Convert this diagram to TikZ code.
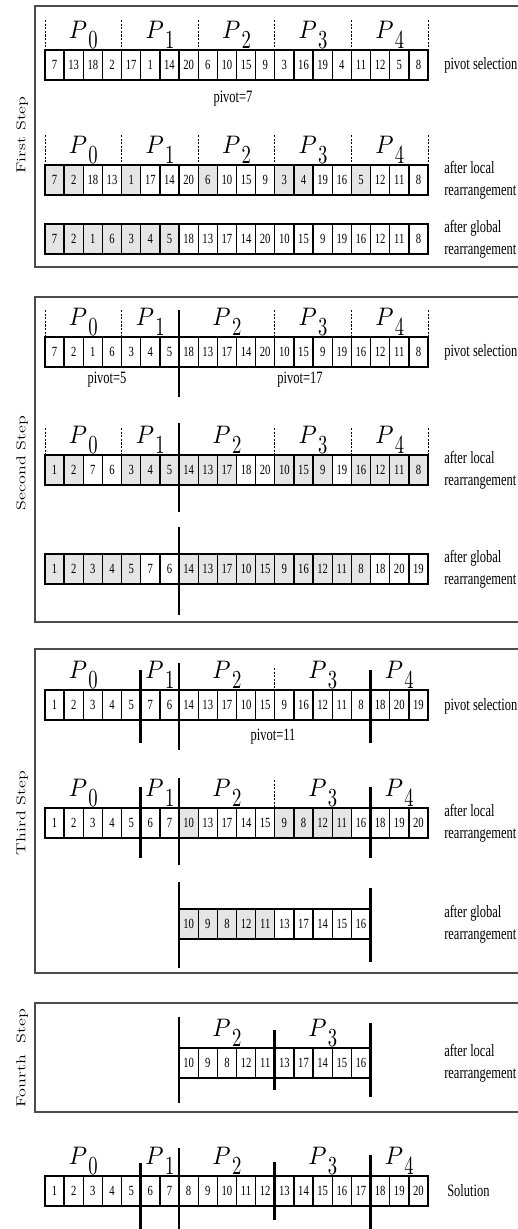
\documentclass[tikz,border=0pt]{standalone}
\usepackage{fontspec}
\usepackage{graphicx}
\newfontfamily\timesfont{Liberation Serif}
% narrow all running text the same way
\newcommand\squeeze[1]{\scalebox{0.72}[1]{#1}}
% processor label P_k
\newcommand\plab[1]{\scalebox{1.75}[1.9]{$P$}\kern1pt\raisebox{-7.5pt}{\scalebox{1.4}[1.95]{#1}}}
\colorlet{cellfill0}{white}
\colorlet{cellfill1}{black!10}
\colorlet{framecol}{black!70}

\tikzset{
  cellbox/.style={draw, line width=1pt, minimum width=14.36pt, minimum height=22.5pt,
    inner sep=0pt, outer sep=0pt, font=\timesfont\fontsize{10.5}{12}\selectfont},
  partdash/.style={line width=0.6pt, dash pattern=on 1.6pt off 1.1pt},
  splitter/.style={line width=2pt},
  framebox/.style={draw=framecol, line width=1.1pt},
  plabel/.style={anchor=base, inner sep=0pt},
  steplab/.style={rotate=90, inner sep=0pt, font=\fontsize{13.5}{15}\selectfont},
  sidelab/.style={anchor=west, align=left, inner sep=0pt, font=\timesfont\fontsize{13}{16.5}\selectfont},
  pivlab/.style={inner sep=0pt, font=\timesfont\fontsize{13}{15}\selectfont}
}

% one row of cells: name prefix, top edge, first index, value/shade list
\newcommand\cellrow[4]{%
  \foreach \v/\f [count=\i from #3] in {#4}{
    \node[cellbox, fill=cellfill\f] (#1-\i) at ({45+19.15*(\i+0.5)},{#2+15}) {\scalebox{0.76}[1]{\v}};
  }}
% dashed partition marks: top, bottom, list of cell boundaries
\newcommand\dashmarks[3]{%
  \foreach \k in {#3}{\draw[partdash] ({45+19.15*\k},#1) -- ({45+19.15*\k},#2);}}
% heavy partition line: boundary, top, bottom
\newcommand\splitline[3]{\draw[splitter] ({45+19.15*#1},#2) -- ({45+19.15*#1},#3);}
% processor labels: name prefix, baseline, list of k/x
\newcommand\plabels[3]{%
  \foreach \k/\x in {#3}{\node[plabel] (#1-p\k) at (\x,#2) {\plab{\k}};}}

\begin{document}
\begin{tikzpicture}[x=0.75pt,y=-0.75pt]
\clip (0,0) rectangle (518,1229);

% ---------- frames and step titles ----------
\draw[framebox] (35,6) rectangle (545,267);
\draw[framebox] (35,297) rectangle (545,622);
\draw[framebox] (35,649) rectangle (545,973);
\draw[framebox] (35,1003) rectangle (545,1112);
\node[steplab] (t1) at (22,135) {\scalebox{1}[0.72]{First Step}};
\node[steplab] (t2) at (22,463) {\scalebox{1}[0.72]{Second Step}};
\node[steplab] (t3) at (22,813) {\scalebox{1}[0.72]{Third Step}};
\node[steplab] (t4) at (22,1058) {\scalebox{1}[0.72]{Fourth\ \ Step}};

% ---------- first step ----------
\plabels{s1a}{38}{0/83.3,1/160,2/236.6,3/313.1,4/389.7}
\dashmarks{20}{50}{0,4,8,12,16,20}
\cellrow{s1a}{50}{0}{7/0,13/0,18/0,2/0,17/0,1/0,14/0,20/0,6/0,10/0,15/0,9/0,3/0,16/0,19/0,4/0,11/0,12/0,5/0,8/0}
\node[sidelab] (s1a-lab) at (444,65) {\squeeze{pivot selection}};
\node[pivlab] (s1a-piv) at (233,99) {\squeeze{pivot=7}};

\plabels{s1b}{153}{0/83.3,1/160,2/236.6,3/313.1,4/389.7}
\dashmarks{135}{165}{0,4,8,12,16,20}
\cellrow{s1b}{165}{0}{7/1,2/1,18/0,13/0,1/1,17/0,14/0,20/0,6/1,10/0,15/0,9/0,3/1,4/1,19/0,16/0,5/1,12/0,11/0,8/0}
\node[sidelab] (s1b-lab) at (444,180) {\squeeze{after local}\\\squeeze{rearrangement}};

\cellrow{s1c}{224}{0}{7/1,2/1,1/1,6/1,3/1,4/1,5/1,18/0,13/0,17/0,14/0,20/0,10/0,15/0,9/0,19/0,16/0,12/0,11/0,8/0}
\node[sidelab] (s1c-lab) at (444,239) {\squeeze{after global}\\\squeeze{rearrangement}};

% ---------- second step ----------
\plabels{s2a}{325}{0/83.3,1/150.3,2/226.9,3/313.1,4/389.7}
\dashmarks{310}{337}{0,4,12,16,20}
\cellrow{s2a}{337}{0}{7/0,2/0,1/0,6/0,3/0,4/0,5/0,18/0,13/0,17/0,14/0,20/0,10/0,15/0,9/0,19/0,16/0,12/0,11/0,8/0}
\splitline{7}{310}{397}
\node[sidelab] (s2a-lab) at (444,352) {\squeeze{pivot selection}};
\node[pivlab] (s2a-piv1) at (107,380) {\squeeze{pivot=5}};
\node[pivlab] (s2a-piv2) at (300,380) {\squeeze{pivot=17}};

\plabels{s2b}{443}{0/83.3,1/150.3,2/226.9,3/313.1,4/389.7}
\dashmarks{428}{455}{0,4,12,16,20}
\cellrow{s2b}{455}{0}{1/1,2/1,7/0,6/0,3/1,4/1,5/1,14/1,13/1,17/1,18/0,20/0,10/1,15/1,9/1,19/0,16/1,12/1,11/1,8/1}
\splitline{7}{423}{512}
\node[sidelab] (s2b-lab) at (444,470) {\squeeze{after local}\\\squeeze{rearrangement}};

\cellrow{s2c}{554}{0}{1/1,2/1,3/1,4/1,5/1,7/0,6/0,14/1,13/1,17/1,10/1,15/1,9/1,16/1,12/1,11/1,8/1,18/0,20/0,19/0}
\splitline{7}{527}{615}
\node[sidelab] (s2c-lab) at (444,569) {\squeeze{after global}\\\squeeze{rearrangement}};

% ---------- third step ----------
\plabels{s3a}{678}{0/83.3,1/159.9,2/226.9,3/322.7,4/399.3}
\dashmarks{668}{690}{12}
\cellrow{s3a}{690}{0}{1/0,2/0,3/0,4/0,5/0,7/0,6/0,14/0,13/0,17/0,10/0,15/0,9/0,16/0,12/0,11/0,8/0,18/0,20/0,19/0}
\splitline{5}{670}{743}
\splitline{7}{663}{750}
\splitline{17}{670}{743}
\node[sidelab] (s3a-lab) at (444,706) {\squeeze{pivot selection}};
\node[pivlab] (s3a-piv) at (273,737) {\squeeze{pivot=11}};

\plabels{s3b}{796}{0/83.3,1/159.9,2/226.9,3/322.7,4/399.3}
\dashmarks{780}{808}{12}
\cellrow{s3b}{808}{0}{1/0,2/0,3/0,4/0,5/0,6/0,7/0,10/1,13/0,17/0,14/0,15/0,9/1,8/1,12/1,11/1,16/0,18/0,19/0,20/0}
\splitline{5}{787}{858}
\splitline{7}{778}{865}
\splitline{17}{787}{858}
\node[sidelab] (s3b-lab) at (444,823) {\squeeze{after local}\\\squeeze{rearrangement}};

\cellrow{s3c}{909}{7}{10/1,9/1,8/1,12/1,11/1,13/0,17/0,14/0,15/0,16/0}
\splitline{7}{882}{968}
\splitline{17}{888}{962}
\node[sidelab] (s3c-lab) at (444,924) {\squeeze{after global}\\\squeeze{rearrangement}};

% ---------- fourth step ----------
\plabels{s4}{1036}{2/226.9,3/322.7}
\cellrow{s4}{1048}{7}{10/0,9/0,8/0,12/0,11/0,13/0,17/0,14/0,15/0,16/0}
\splitline{7}{1017}{1103}
\splitline{12}{1030}{1090}
\splitline{17}{1023}{1097}
\node[sidelab] (s4-lab) at (444,1063) {\squeeze{after local}\\\squeeze{rearrangement}};

% ---------- solution ----------
\plabels{s5}{1164}{0/83.3,1/159.9,2/226.9,3/322.7,4/399.3}
\cellrow{s5}{1176}{0}{1/0,2/0,3/0,4/0,5/0,6/0,7/0,8/0,9/0,10/0,11/0,12/0,13/0,14/0,15/0,16/0,17/0,18/0,19/0,20/0}
\splitline{5}{1163}{1230}
\splitline{7}{1148}{1230}
\splitline{12}{1162}{1220}
\splitline{17}{1155}{1230}
\node[sidelab] (s5-lab) at (447,1191) {\squeeze{Solution}};
\end{tikzpicture}
\end{document}
